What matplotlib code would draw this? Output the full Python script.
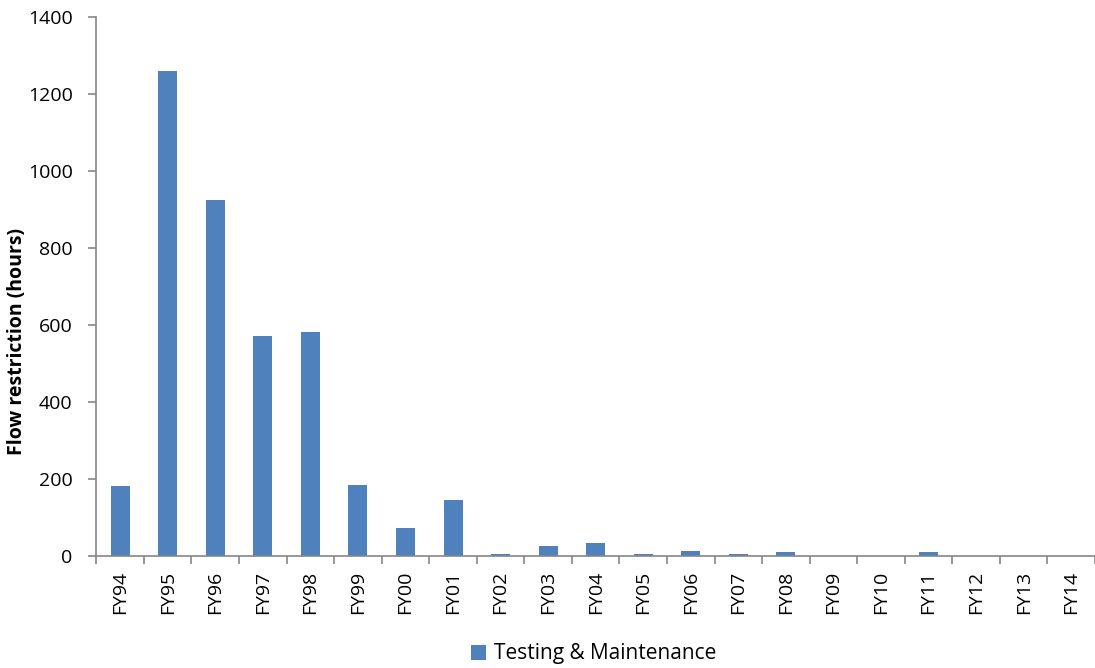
import matplotlib.pyplot as plt
import numpy as np

# data
years = ['FY94', 'FY95', 'FY96', 'FY97', 'FY98', 'FY99', 'FY00', 'FY01', 'FY02', 'FY03', 'FY04',
         'FY05', 'FY06', 'FY07', 'FY08', 'FY09', 'FY10', 'FY11', 'FY12', 'FY13', 'FY14']
hours = [180, 1260, 925, 572, 580, 185, 72, 146, 5, 25, 32, 4, 12, 4, 11, 0, 0, 11, 0, 0, 0]

plt.rcParams['font.family'] = ['Open Sans', 'DejaVu Sans']

fig = plt.figure(figsize=(10.95, 6.68), dpi=100)
ax = fig.add_axes([0.088, 0.168, 0.912, 0.807])

x = np.arange(len(years))
ax.bar(x, hours, width=0.4, color='#4F81BD', label='Testing & Maintenance', zorder=2)

# axes
ax.set_xlim(-0.5, len(years) - 0.5)
ax.set_ylim(0, 1400)
ax.set_yticks(range(0, 1401, 200))
ax.set_xticks(x)
ax.set_xticklabels(years, rotation=90, fontsize=14)
ax.set_xticks(np.arange(-0.5, len(years), 1), minor=True)
ax.tick_params(axis='x', which='major', length=0, pad=11)
ax.tick_params(axis='x', which='minor', length=6, color='#868686', width=1.2)
ax.tick_params(axis='y', labelsize=14, length=6, color='#868686', width=1.2, pad=11)
ax.set_ylabel('Flow restriction (hours)', fontsize=14, fontweight='bold')
ax.yaxis.set_label_coords(-0.069, 0.397)

for s in ['top', 'right']:
    ax.spines[s].set_visible(False)
for s in ['left', 'bottom']:
    ax.spines[s].set_color('#868686')
    ax.spines[s].set_linewidth(1.2)

fig.legend(loc='center', bbox_to_anchor=(0.542, 0.021), frameon=False, fontsize=15,
           handlelength=0.75, handleheight=0.75, handletextpad=0.35)

fig.savefig('out.png', dpi=100)
